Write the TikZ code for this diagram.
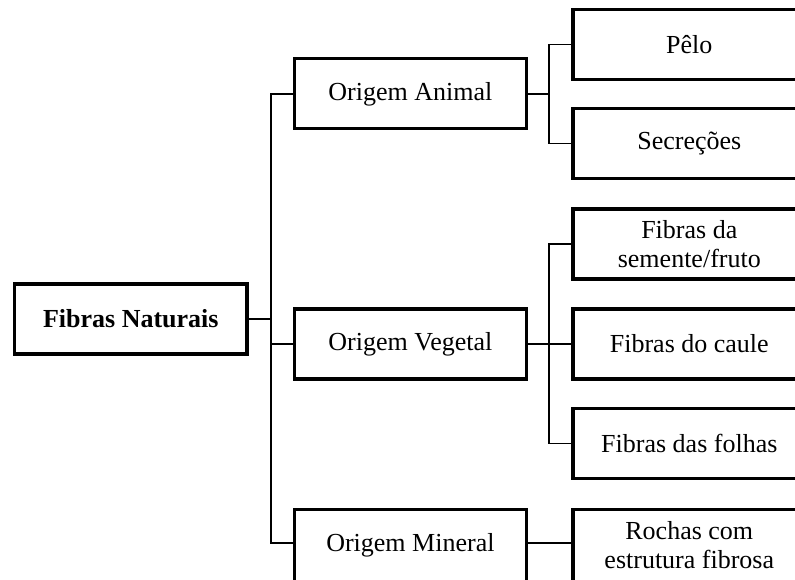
\documentclass[tikz,border=0pt]{standalone}
\usepackage{fontspec}
\setmainfont{Liberation Serif}
\begin{document}
\begin{tikzpicture}[x=1pt,y=-1pt,
  box/.style={draw, line width=3.3pt, rectangle, inner sep=0pt, outer sep=0pt,
    minimum width=232.5pt, minimum height=70pt, align=center,
    font=\fontsize{26}{29}\selectfont},
  tallbox/.style={box, minimum height=72pt},
  link/.style={line width=1.4pt}]
\useasboundingbox (0,0) rectangle (795,579);

% root
\node[box, font=\fontsize{26}{29}\selectfont\bfseries] (root) at (130.8,319) {Fibras Naturais};

% second level
\node[box] (anim) at (410.4,93.8) {Origem Animal};
\node[box] (veg)  at (410.4,344)  {Origem Vegetal};
\node[tallbox] (min) at (410.4,545.5) {Origem Mineral};

% leaves
\node[box] (pelo)  at (689.3,44.5)  {Pêlo};
\node[box] (secr)  at (689.3,143.3) {Secreções};
\node[box] (sem)   at (689.3,244)   {Fibras da\\semente/fruto};
\node[box] (caule) at (689.3,344)   {Fibras do caule};
\node[box] (folha) at (689.3,443.5) {Fibras das folhas};
\node[tallbox] (rocha) at (689.3,545.5) {Rochas com\\estrutura fibrosa};

% bus lines
\coordinate (b1) at (271,0);
\coordinate (b2) at (549,0);
\coordinate (minin) at ([yshift=2.5pt]min.west);
\coordinate (minout) at ([yshift=2.5pt]min.east);

% root to second level
\draw[link] (root.east) -- (root.east -| b1);
\draw[link] (anim.west) -- (anim.west -| b1) -- (minin -| b1) -- (minin);
\draw[link] (veg.west) -- (veg.west -| b1);

% animal branch
\draw[link] (anim.east) -- (anim.east -| b2);
\draw[link] (pelo.west) -- (pelo.west -| b2) -- (secr.west -| b2) -- (secr.west);

% vegetal branch
\draw[link] (veg.east) -- (caule.west);
\draw[link] (sem.west) -- (sem.west -| b2) -- (folha.west -| b2) -- (folha.west);

% mineral branch
\draw[link] (minout) -- (minout -| rocha.west);
\end{tikzpicture}
\end{document}
